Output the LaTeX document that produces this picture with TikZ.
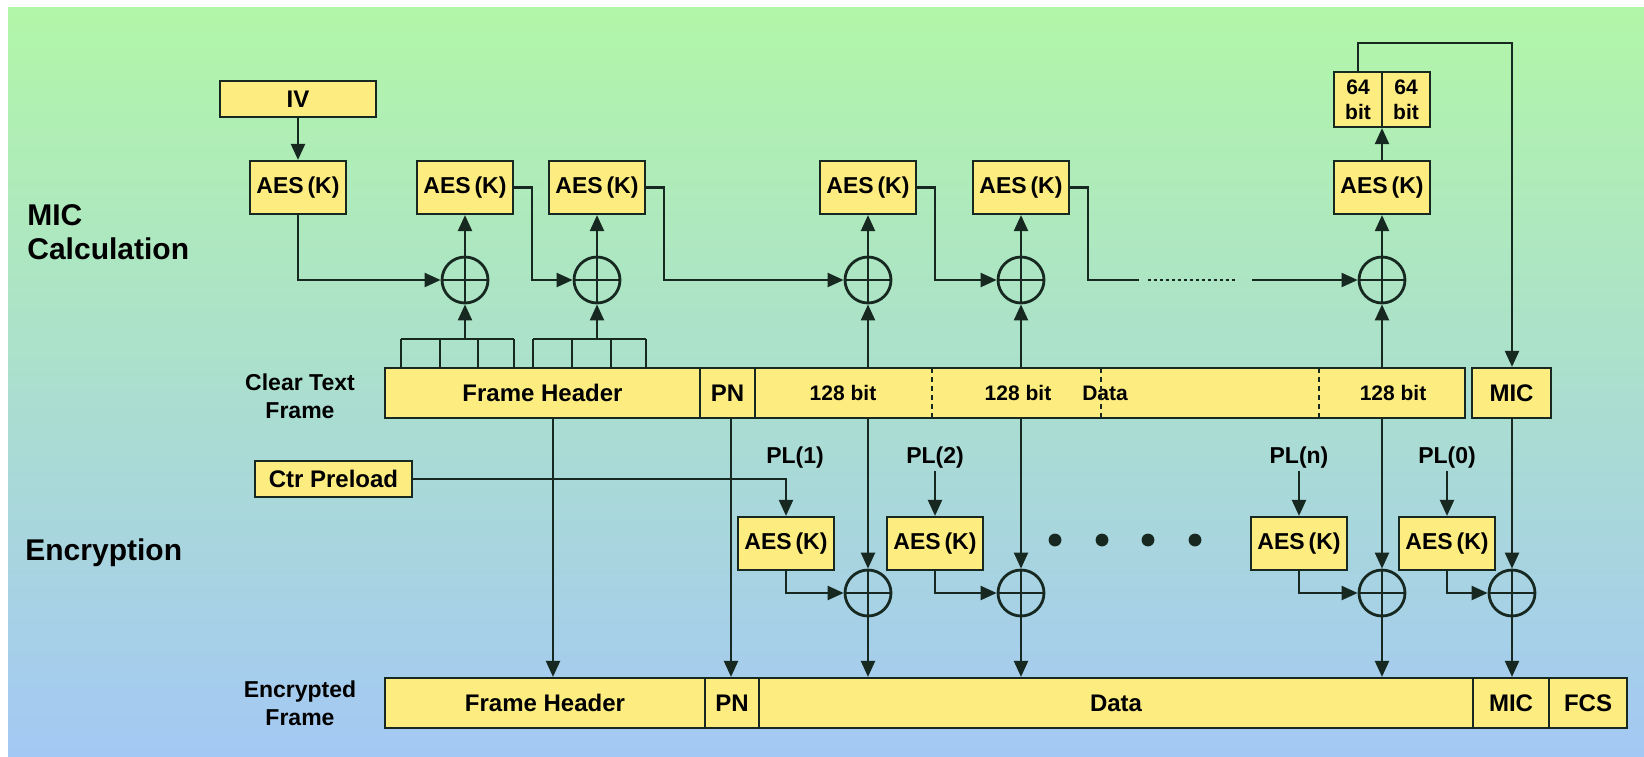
\documentclass[tikz,border=0pt]{standalone}
\usepackage{fontspec}
\setmainfont{Liberation Sans}
\usetikzlibrary{arrows.meta}

\definecolor{boxfill}{RGB}{253,236,128}
\definecolor{ink}{RGB}{22,40,32}
\definecolor{bgtop}{RGB}{178,246,168}
\definecolor{bgbot}{RGB}{164,200,244}

\begin{document}
\begin{tikzpicture}[
    x=0.5pt, y=-0.5pt,
    aesbox/.style={
        draw=ink, fill=boxfill, line width=1.1pt,
        minimum width=48pt, minimum height=26.5pt, inner sep=0pt,
        font=\fontsize{11.5}{13}\selectfont\bfseries
    },
    field/.style={
        draw=ink, fill=boxfill, line width=1.1pt,
        minimum height=25pt, inner sep=0pt,
        font=\fontsize{12}{14}\selectfont\bfseries
    },
    halfbox/.style={
        draw=ink, fill=boxfill, line width=1.1pt,
        minimum width=24pt, minimum height=27.5pt, inner sep=0pt,
        align=center, font=\fontsize{10.5}{12.5}\selectfont\bfseries
    },
    fieldtext/.style={inner sep=0pt, font=\fontsize{10.5}{12}\selectfont\bfseries},
    pllabel/.style={inner sep=1pt, font=\fontsize{11.5}{13}\selectfont\bfseries},
    sidelabel/.style={align=left, inner sep=0pt, font=\fontsize{15}{17}\selectfont\bfseries},
    framelabel/.style={align=center, inner sep=0pt, font=\fontsize{11.5}{14}\selectfont\bfseries},
    xorop/.style={
        circle, draw=ink, line width=1.4pt, minimum size=23pt, inner sep=0pt,
        path picture={\draw[ink, line width=1.4pt]
            (path picture bounding box.north) -- (path picture bounding box.south)
            (path picture bounding box.west) -- (path picture bounding box.east);}
    },
    arrow/.style={draw=ink, line width=1.1pt, -{Triangle[length=8pt,width=7pt]}},
    link/.style={draw=ink, line width=1.1pt}
]

% background
\fill[white] (0,0) rectangle (1644,756);
\shade[top color=bgtop, bottom color=bgbot] (8,7) rectangle (1644,756);
\useasboundingbox (0,0) rectangle (1644,756);

% row labels
\node[sidelabel, anchor=west] (miclabel) at (27,232) {MIC\\Calculation};
\node[sidelabel, anchor=west] (enclabel) at (25,553) {Encryption};
\node[framelabel] (clearlabel) at (300,396) {Clear Text\\Frame};
\node[framelabel] (cryptlabel) at (300,703) {Encrypted\\Frame};

% MIC calculation
\node[field, minimum width=78pt, minimum height=18pt] (iv) at (298,99) {IV};
\node[aesbox] (aes1) at (298,187.5) {AES\,(K)};
\node[aesbox] (aes2) at (465,187.5) {AES\,(K)};
\node[aesbox] (aes3) at (597,187.5) {AES\,(K)};
\node[aesbox] (aes4) at (868,187.5) {AES\,(K)};
\node[aesbox] (aes5) at (1021,187.5) {AES\,(K)};
\node[aesbox] (aes6) at (1382,187.5) {AES\,(K)};
\node[halfbox] (bitsl) at (1358,99.5) {64\\bit};
\node[halfbox] (bitsr) at (1406,99.5) {64\\bit};

\node[xorop] (xor1) at (465,280) {};
\node[xorop] (xor2) at (597,280) {};
\node[xorop] (xor3) at (868,280) {};
\node[xorop] (xor4) at (1021,280) {};
\node[xorop] (xor5) at (1382,280) {};

% clear text frame
\node[field, minimum width=157.5pt] (cfh) at (542.5,393) {Frame Header};
\node[field, minimum width=27.5pt] (cpn) at (727.5,393) {PN};
\node[field, minimum width=355pt] (cdata) at (1110,393) {};
\node[field, minimum width=39.5pt] (cmic) at (1511.5,393) {MIC};
\node[fieldtext] (blk1) at (843,393) {128 bit};
\node[fieldtext] (blk2) at (1018,393) {128 bit};
\node[fieldtext] (dlabel) at (1105,393) {Data};
\node[fieldtext] (blkn) at (1393,393) {128 bit};
\foreach \x in {932,1101,1319}
    \draw[ink, line width=0.8pt, dash pattern=on 2.5pt off 2pt] (\x,368) -- (\x,418);

% header words into the first two blocks
\foreach \x in {401,440,478,514} \draw[link] (\x,339) -- (\x,368);
\foreach \x in {533,572,611,646} \draw[link] (\x,339) -- (\x,368);
\draw[link] (401,339) -- (514,339);
\draw[link] (533,339) -- (646,339);
\coordinate (comb1) at (465,339);
\coordinate (comb2) at (597,339);

% encryption
\node[field, minimum width=78.5pt, minimum height=18pt] (ctr) at (333.5,479) {Ctr Preload};
\node[pllabel] (pl1) at (795,458) {PL(1)};
\node[pllabel] (pl2) at (935,458) {PL(2)};
\node[pllabel] (pln) at (1299,458) {PL(n)};
\node[pllabel] (pl0) at (1447,458) {PL(0)};
\node[aesbox] (eaes1) at (786,543.5) {AES\,(K)};
\node[aesbox] (eaes2) at (935,543.5) {AES\,(K)};
\node[aesbox] (eaes3) at (1299,543.5) {AES\,(K)};
\node[aesbox] (eaes4) at (1447,543.5) {AES\,(K)};
\node[xorop] (exor1) at (868,593) {};
\node[xorop] (exor2) at (1021,593) {};
\node[xorop] (exor3) at (1382,593) {};
\node[xorop] (exor4) at (1512,593) {};
\foreach \x in {1055,1102,1148,1195} \fill[ink] (\x,540) circle (3.2pt);

% encrypted frame
\node[field, minimum width=160pt] (efh) at (545,703) {Frame Header};
\node[field, minimum width=27pt] (epn) at (732,703) {PN};
\node[field, minimum width=357pt] (edata) at (1116,703) {Data};
\node[field, minimum width=38pt] (emic) at (1511,703) {MIC};
\node[field, minimum width=39pt] (efcs) at (1588,703) {FCS};

% MIC chain connectors
\draw[arrow] (iv) -- (aes1);
\draw[arrow] (aes1) |- (xor1);
\draw[arrow] (aes2.east) -- ++(18,0) |- (xor2);
\draw[arrow] (aes3.east) -- ++(18,0) |- (xor3);
\draw[arrow] (aes4.east) -- ++(18,0) |- (xor4);
\coordinate (gapl) at (1139,280);
\coordinate (dotl) at (1148,280);
\coordinate (dotr) at (1238,280);
\coordinate (gapr) at (1252,280);
\draw[link] (aes5.east) -- ++(18,0) |- (gapl);
\draw[ink, line width=1pt, dash pattern=on 1.5pt off 1.5pt] (dotl) -- (dotr);
\draw[arrow] (gapr) -- (xor5);
\draw[arrow] (xor1) -- (aes2);
\draw[arrow] (xor2) -- (aes3);
\draw[arrow] (xor3) -- (aes4);
\draw[arrow] (xor4) -- (aes5);
\draw[arrow] (xor5) -- (aes6);
\draw[arrow] (aes6.north) -- (aes6.north |- bitsl.south);
\draw[arrow] (comb1) -- (xor1);
\draw[arrow] (comb2) -- (xor2);
\draw[arrow] (cdata.north -| xor3) -- (xor3);
\draw[arrow] (cdata.north -| xor4) -- (xor4);
\draw[arrow] (cdata.north -| xor5) -- (xor5);
\coordinate (looptop) at (1512,43);
\draw[arrow] (bitsl.north) |- (looptop) -- (cmic.north -| looptop);

% encryption connectors
\coordinate (fhdrop) at (553,418);
\coordinate (pndrop) at (731,418);
\draw[arrow] (fhdrop) -- (fhdrop |- efh.north);
\draw[arrow] (pndrop) -- (pndrop |- epn.north);
\draw[arrow] (ctr) -| (eaes1);
\draw[arrow] (pl2) -- (eaes2);
\draw[arrow] (pln) -- (eaes3);
\draw[arrow] (pl0) -- (eaes4);
\draw[arrow] (eaes1) |- (exor1);
\draw[arrow] (eaes2) |- (exor2);
\draw[arrow] (eaes3) |- (exor3);
\draw[arrow] (eaes4) |- (exor4);
\draw[arrow] (cdata.south -| exor1) -- (exor1);
\draw[arrow] (cdata.south -| exor2) -- (exor2);
\draw[arrow] (cdata.south -| exor3) -- (exor3);
\draw[arrow] (cmic.south -| exor4) -- (exor4);
\draw[arrow] (exor1) -- (edata.north -| exor1);
\draw[arrow] (exor2) -- (edata.north -| exor2);
\draw[arrow] (exor3) -- (edata.north -| exor3);
\draw[arrow] (exor4) -- (emic.north -| exor4);

\end{tikzpicture}
\end{document}
